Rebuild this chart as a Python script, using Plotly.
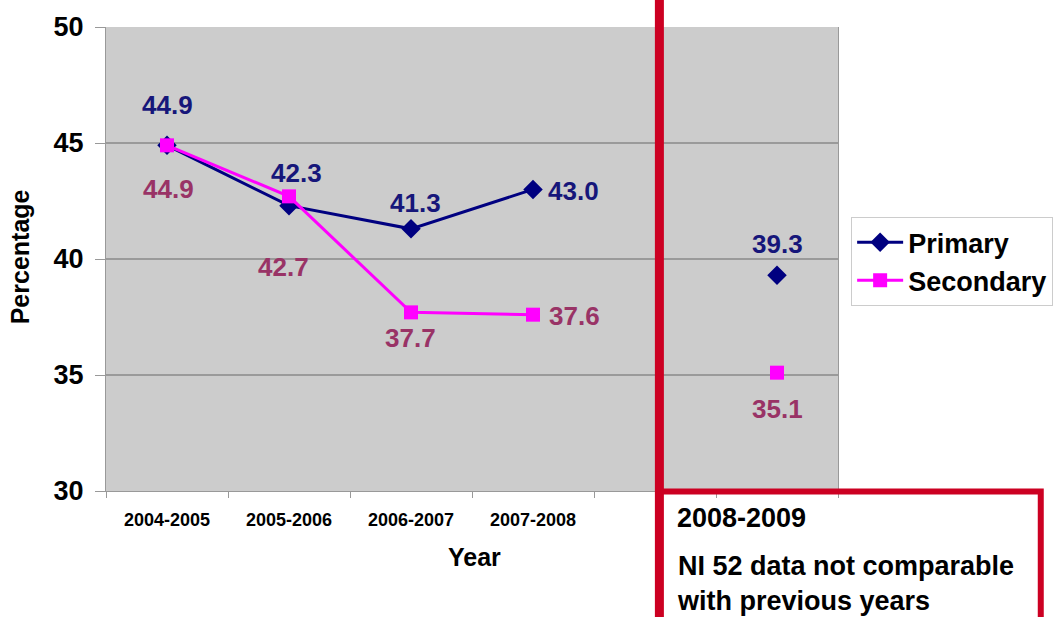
import plotly.graph_objects as go

categories = ["2004-2005", "2005-2006", "2006-2007", "2007-2008", "gap", "2008-2009"]
tick_labels = ["2004-2005", "2005-2006", "2006-2007", "2007-2008", "", ""]
primary = [44.9, 42.3, 41.3, 43.0, None, 39.3]
secondary = [44.9, 42.7, 37.7, 37.6, None, 35.1]

# label offsets (pixels) relative to points
primary_shift = [(0, 40), (7, 33), (4, 26), (40, -2), None, (0, 31)]
secondary_shift = [(1, -44), (-6, -71), (-1, -26), (41, -1), None, (0, -36)]

NAVY = "#000080"
NAVY_TXT = "#16167A"
MAG = "#FF00FF"
MAG_TXT = "#993366"
RED = "#CC0022"
FONT = "Liberation Sans"

fig = go.Figure()
fig.add_trace(go.Scatter(
    x=categories, y=primary, name="Primary", mode="lines+markers",
    line=dict(color=NAVY, width=3), connectgaps=False,
    marker=dict(symbol="diamond", size=15, color=NAVY),
))
fig.add_trace(go.Scatter(
    x=categories, y=secondary, name="Secondary", mode="lines+markers",
    line=dict(color=MAG, width=3), connectgaps=False,
    marker=dict(symbol="square", size=14, color=MAG),
))

for vals, shifts, col in [(primary, primary_shift, NAVY_TXT), (secondary, secondary_shift, MAG_TXT)]:
    for c, v, s in zip(categories, vals, shifts):
        if v is None:
            continue
        fig.add_annotation(
            x=c, y=v, text=f"{v:.1f}", showarrow=False,
            xshift=s[0], yshift=s[1],
            font=dict(family=FONT, size=26, color=col, weight="bold"),
        )

# red separator line and note box
fig.add_shape(type="line", xref="paper", yref="paper",
              x0=0.756, x1=0.756, y0=-0.4, y1=1.1,
              line=dict(color=RED, width=9))
fig.add_shape(type="rect", xref="paper", yref="paper",
              x0=0.756, x1=1.277, y0=-0.5, y1=-0.001,
              line=dict(color=RED, width=6), fillcolor="rgba(0,0,0,0)")
fig.add_annotation(xref="paper", yref="paper", x=0.777, y=-0.058,
                   xanchor="left", yanchor="middle", showarrow=False,
                   text="2008-2009",
                   font=dict(family=FONT, size=27, color="black", weight="bold"))
fig.add_annotation(xref="paper", yref="paper", x=0.777, y=-0.2,
                   xanchor="left", yanchor="middle", showarrow=False, align="left",
                   text="NI 52 data not comparable<br>with previous years",
                   font=dict(family=FONT, size=27, color="black", weight="bold"))

# axis titles
fig.add_annotation(xref="paper", yref="paper", x=0.503, y=-0.142,
                   xanchor="center", yanchor="middle", showarrow=False,
                   text="Year", font=dict(family=FONT, size=25, color="black", weight="bold"))
fig.add_annotation(xref="paper", yref="paper", x=-0.118, y=0.505,
                   xanchor="center", yanchor="middle", showarrow=False, textangle=-90,
                   text="Percentage", font=dict(family=FONT, size=25, color="black", weight="bold"))

fig.update_layout(
    width=1056, height=617,
    margin=dict(l=106, r=218, t=27, b=126, autoexpand=False),
    paper_bgcolor="white", plot_bgcolor="#CCCCCC",
    showlegend=True,
    legend=dict(
        xref="container", yref="container",
        x=0.806, y=0.648, xanchor="left", yanchor="top",
        bgcolor="white", bordercolor="#CCCCCC", borderwidth=1,
        font=dict(family=FONT, size=27, color="black", weight="bold"),
        tracegroupgap=0, itemwidth=46,
    ),
    xaxis=dict(
        type="category", categoryorder="array", categoryarray=categories,
        tickmode="array", tickvals=categories, ticktext=tick_labels,
        tickson="boundaries", ticks="outside", ticklen=6, tickcolor="#999999",
        showgrid=False, showline=True, linecolor="#999999", linewidth=1,
        range=[-0.5, 5.5], ticklabelstandoff=12,
        tickfont=dict(family=FONT, size=18, color="black", weight="bold"),
    ),
    yaxis=dict(
        range=[30, 50], tickvals=[30, 35, 40, 45, 50],
        ticks="outside", ticklen=10, tickcolor="#999999",
        showgrid=True, gridcolor="#9A9A9A", gridwidth=1.5,
        showline=True, linecolor="#999999", linewidth=1, mirror=True,
        zeroline=False, ticklabelstandoff=6,
        tickfont=dict(family=FONT, size=27, color="black", weight="bold"),
    ),
)

fig.write_html("out.html", config={"displayModeBar": False},
               post_script="document.body.style.margin='0';document.body.style.overflow='hidden';")
